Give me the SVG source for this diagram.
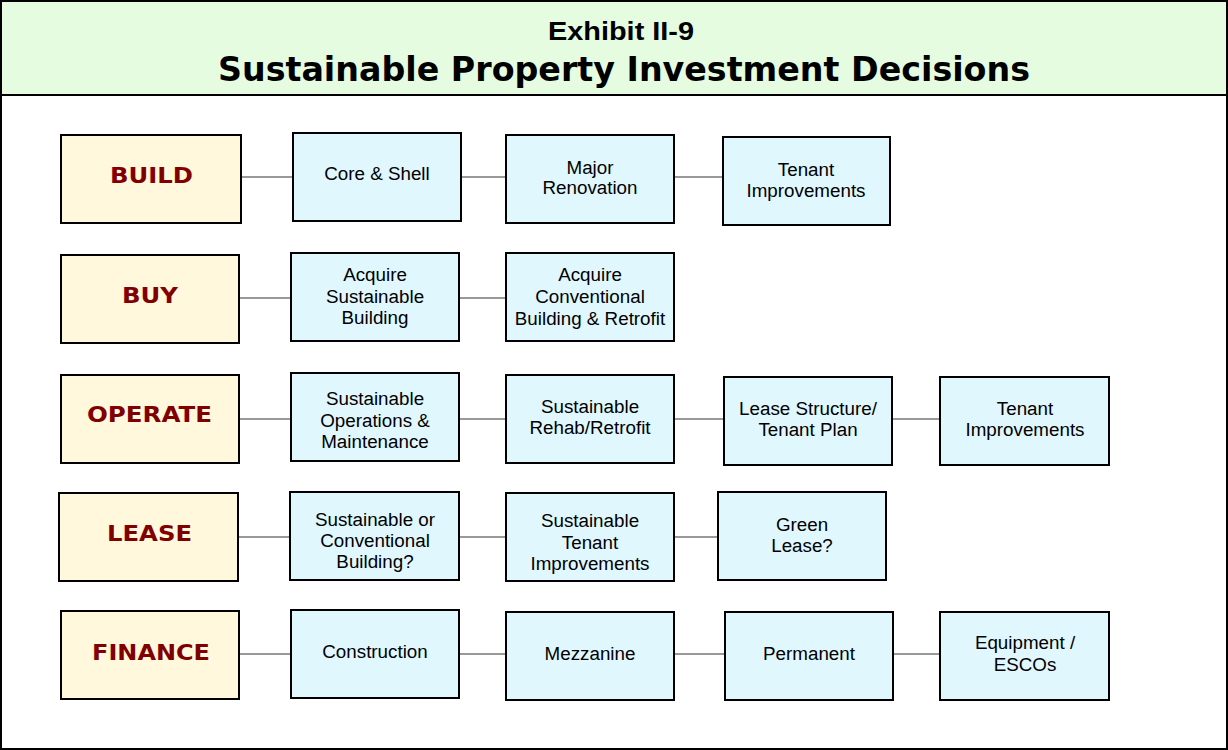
<svg xmlns="http://www.w3.org/2000/svg" width="1228" height="750" viewBox="0 0 1228 750">
<style>
.cat{fill:#fff8dc;stroke:#000;stroke-width:2}
.box{fill:#e0f7fe;stroke:#000;stroke-width:2}
.ct{font-family:"DejaVu Sans","Liberation Sans",Arial,sans-serif;font-weight:bold;font-size:21px;fill:#800000;text-anchor:middle}
.bt{font-family:"Liberation Sans",Arial,sans-serif;font-size:18.8px;fill:#000;text-anchor:middle}
.con line{stroke:#999;stroke-width:2}
</style>
<rect x="1" y="1" width="1226" height="748" fill="#fff" stroke="#000" stroke-width="2"/>
<rect x="1" y="1" width="1226" height="94" fill="#e6fce0" stroke="#000" stroke-width="2"/>
<text x="621" y="40" font-family="Liberation Sans,Arial,sans-serif" font-weight="bold" font-size="25" text-anchor="middle" textLength="146" lengthAdjust="spacingAndGlyphs">Exhibit II-9</text>
<text x="624" y="81" font-family="DejaVu Sans,Liberation Sans,Arial,sans-serif" font-weight="bold" font-size="33" text-anchor="middle" textLength="812" lengthAdjust="spacingAndGlyphs">Sustainable Property Investment Decisions</text>
<g class="con">
<line x1="241" y1="177" x2="293" y2="177"/><line x1="461" y1="177" x2="506" y2="177"/><line x1="674" y1="177" x2="723" y2="177"/>
<line x1="239" y1="298" x2="291" y2="298"/><line x1="459" y1="298" x2="506" y2="298"/>
<line x1="239" y1="419" x2="291" y2="419"/><line x1="459" y1="419" x2="506" y2="419"/><line x1="674" y1="419" x2="724" y2="419"/><line x1="892" y1="419" x2="940" y2="419"/>
<line x1="238" y1="537" x2="290" y2="537"/><line x1="459" y1="537" x2="506" y2="537"/><line x1="674" y1="537" x2="718" y2="537"/>
<line x1="239" y1="654" x2="291" y2="654"/><line x1="459" y1="654" x2="506" y2="654"/><line x1="674" y1="654" x2="725" y2="654"/><line x1="893" y1="654" x2="940" y2="654"/>
</g>
<g id="build"><rect class="cat" x="61" y="135" width="180" height="88"/><text class="ct" x="151.5" y="183" textLength="83" lengthAdjust="spacingAndGlyphs">BUILD</text></g>
<g id="core-shell"><rect class="box" x="293" y="133" width="168" height="88"/><text class="bt" x="377" y="180">Core &amp; Shell</text></g>
<g id="major-renovation"><rect class="box" x="506" y="135" width="168" height="88"/><text class="bt" x="590" y="174">Major</text><text class="bt" x="590" y="194">Renovation</text></g>
<g id="tenant-improvements-1"><rect class="box" x="723" y="137" width="167" height="88"/><text class="bt" x="806" y="176">Tenant</text><text class="bt" x="806" y="197">Improvements</text></g>

<g id="buy"><rect class="cat" x="61" y="255" width="178" height="88"/><text class="ct" x="150" y="303" textLength="56" lengthAdjust="spacingAndGlyphs">BUY</text></g>
<g id="acquire-sustainable"><rect class="box" x="291" y="253" width="168" height="88"/><text class="bt" x="375" y="281">Acquire</text><text class="bt" x="375" y="303">Sustainable</text><text class="bt" x="375" y="324">Building</text></g>
<g id="acquire-conventional"><rect class="box" x="506" y="253" width="168" height="88"/><text class="bt" x="590" y="281">Acquire</text><text class="bt" x="590" y="303">Conventional</text><text class="bt" x="590" y="325">Building &amp; Retrofit</text></g>

<g id="operate"><rect class="cat" x="61" y="375" width="178" height="88"/><text class="ct" x="149.5" y="422" textLength="125" lengthAdjust="spacingAndGlyphs">OPERATE</text></g>
<g id="sustainable-om"><rect class="box" x="291" y="373" width="168" height="88"/><text class="bt" x="375" y="405">Sustainable</text><text class="bt" x="375" y="427">Operations &amp;</text><text class="bt" x="375" y="448">Maintenance</text></g>
<g id="rehab-retrofit"><rect class="box" x="506" y="375" width="168" height="88"/><text class="bt" x="590" y="413">Sustainable</text><text class="bt" x="590" y="434">Rehab/Retrofit</text></g>
<g id="lease-structure"><rect class="box" x="724" y="377" width="168" height="88"/><text class="bt" x="808" y="415">Lease Structure/</text><text class="bt" x="808" y="436">Tenant Plan</text></g>
<g id="tenant-improvements-2"><rect class="box" x="940" y="377" width="169" height="88"/><text class="bt" x="1025" y="415">Tenant</text><text class="bt" x="1025" y="436">Improvements</text></g>

<g id="lease"><rect class="cat" x="59" y="493" width="179" height="88"/><text class="ct" x="149.5" y="541" textLength="85" lengthAdjust="spacingAndGlyphs">LEASE</text></g>
<g id="sust-or-conv"><rect class="box" x="290" y="492" width="169" height="88"/><text class="bt" x="375" y="526">Sustainable or</text><text class="bt" x="375" y="547">Conventional</text><text class="bt" x="375" y="568">Building?</text></g>
<g id="sust-tenant-improvements"><rect class="box" x="506" y="493" width="168" height="88"/><text class="bt" x="590" y="527">Sustainable</text><text class="bt" x="590" y="549">Tenant</text><text class="bt" x="590" y="570">Improvements</text></g>
<g id="green-lease"><rect class="box" x="718" y="492" width="168" height="88"/><text class="bt" x="802" y="531">Green</text><text class="bt" x="802" y="552">Lease?</text></g>

<g id="finance"><rect class="cat" x="61" y="611" width="178" height="88"/><text class="ct" x="151" y="660" textLength="118" lengthAdjust="spacingAndGlyphs">FINANCE</text></g>
<g id="construction"><rect class="box" x="291" y="610" width="168" height="88"/><text class="bt" x="375" y="658">Construction</text></g>
<g id="mezzanine"><rect class="box" x="506" y="612" width="168" height="88"/><text class="bt" x="590" y="660">Mezzanine</text></g>
<g id="permanent"><rect class="box" x="725" y="612" width="168" height="88"/><text class="bt" x="809" y="660">Permanent</text></g>
<g id="equipment-escos"><rect class="box" x="940" y="612" width="169" height="88"/><text class="bt" x="1025" y="649">Equipment /</text><text class="bt" x="1025" y="671">ESCOs</text></g>
</svg>
